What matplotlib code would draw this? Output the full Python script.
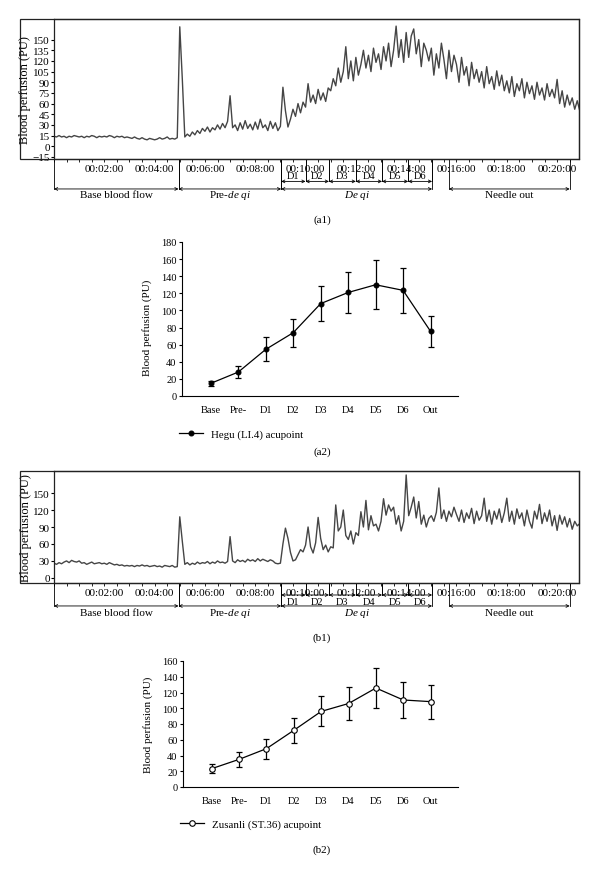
import matplotlib
matplotlib.use("Agg")
import matplotlib.pyplot as plt
from matplotlib.patches import Rectangle
from matplotlib.ticker import MultipleLocator, FuncFormatter
import numpy as np

plt.rcParams['font.family'] = 'Liberation Serif'
plt.rcParams['mathtext.fontset'] = 'custom'
plt.rcParams['mathtext.rm'] = 'Liberation Serif'
plt.rcParams['mathtext.it'] = 'Liberation Serif:italic'

# perfusion traces, one reading every 0.1 min (one row per minute)
trace_step = 0.1
hegu_trace = [
    14, 13, 15, 13, 14, 12, 14, 13, 15, 14,
    13, 14, 12, 14, 13, 15, 14, 12, 14, 13,
    14, 13, 15, 14, 12, 14, 13, 14, 12, 13,
    12, 11, 13, 11, 10, 12, 10, 9, 11, 10,
    9, 10, 12, 10, 11, 13, 10, 11, 10, 12,
    168, 95, 13, 17, 14, 20, 16, 22, 18, 25,
    21, 27, 20, 26, 23, 30, 24, 32, 26, 35,
    71, 26, 30, 22, 33, 24, 36, 25, 31, 23,
    34, 24, 38, 26, 30, 22, 35, 25, 33, 22,
    28, 83, 50, 27, 38, 52, 42, 60, 47, 62,
    55, 88, 62, 72, 60, 80, 65, 75, 63, 82,
    78, 95, 85, 110, 90, 105, 140, 95, 120, 92,
    125, 100, 115, 135, 110, 128, 105, 138, 118, 130,
    108, 140, 120, 145, 112, 135, 169, 125, 150, 118,
    160, 125, 155, 165, 130, 150, 112, 145, 135, 120,
    138, 100, 130, 110, 145, 122, 95, 135, 105, 128,
    115, 90, 125, 100, 112, 85, 118, 95, 108, 90,
    105, 82, 112, 88, 98, 80, 106, 85, 100, 78,
    92, 75, 98, 70, 88, 78, 95, 68, 90, 74,
    85, 66, 90, 72, 82, 65, 88, 70, 80, 68,
    94, 60, 78, 55, 72, 58, 68, 52, 64, 50,
]
zusanli_trace = [
    26, 24, 27, 25, 28, 30, 27, 31, 29, 28,
    30, 26, 27, 24, 26, 28, 25, 26, 27, 25,
    26, 24, 27, 25, 23, 24, 22, 23, 21, 22,
    21, 22, 20, 22, 21, 23, 21, 22, 20, 21,
    22, 20, 21, 19, 22, 21, 20, 22, 19, 20,
    108, 65, 24, 27, 23, 26, 24, 28, 25, 27,
    26, 29, 25, 28, 26, 30, 27, 28, 26, 29,
    73, 30, 27, 32, 29, 31, 28, 33, 30, 32,
    29, 34, 30, 33, 31, 29, 32, 30, 26, 25,
    26, 60, 88, 70, 45, 30, 32, 41, 50, 46,
    58, 90, 55, 44, 62, 107, 70, 50, 58, 46,
    55, 53, 129, 83, 90, 120, 75, 68, 83, 60,
    80, 75, 117, 90, 137, 85, 110, 92, 95, 83,
    100, 140, 111, 129, 118, 125, 95, 110, 83, 100,
    182, 110, 125, 143, 106, 135, 95, 111, 90, 105,
    110, 100, 116, 159, 105, 120, 100, 118, 108, 125,
    112, 100, 120, 98, 115, 105, 123, 96, 118, 102,
    110, 141, 100, 120, 95, 118, 104, 122, 98, 115,
    141, 100, 118, 95, 122, 105, 115, 92, 120, 100,
    88, 118, 104, 130, 96, 115, 100, 120, 92, 110,
    84, 111, 95, 108, 90, 105, 86, 100, 92, 96,
]

# phase boundaries (minutes)
phase_names = ["Base blood flow", r"Pre-$\it{de\ qi}$", r"$\it{De\ qi}$", "Needle out"]
phase_edges = [(0, 4.95), (4.95, 9.03), (9.03, 15.03), (15.7, 20.5)]
dq_names = ["D1", "D2", "D3", "D4", "D5", "D6"]
dq_edges = [9.03, 10.0, 10.93, 12.0, 13.04, 14.08, 15.03]

# stage means and SD
stages = ["Base", "Pre-", "D1", "D2", "D3", "D4", "D5", "D6", "Out"]
hegu_mean = [14.8, 28, 54.5, 74, 108, 121, 130, 123.5, 75.6]
hegu_sd = [3, 7, 14, 16.5, 20.5, 24, 28.5, 26, 18]
zusanli_mean = [23.3, 35.1, 48.7, 72, 96, 106, 125.7, 110.5, 108.4]
zusanli_sd = [5.7, 9.3, 12.7, 15.5, 19, 21, 26, 23, 21.6]

W, H = 600, 878
fig = plt.figure(figsize=(W / 100, H / 100), dpi=100)


def fig_rect(x0, y0, x1, y1):
    return [x0 / W, 1 - y1 / H, (x1 - x0) / W, (y1 - y0) / H]


def time_fmt(v, pos):
    m = int(round(v))
    if m <= 0:
        return ""
    return "00:%02d:00" % m


def trace_panel(rect, box, trace, ylim, yticks, tag, rows):
    # outer frame around tick labels and axis
    x0, y0, x1, y1 = box
    fig.add_artist(Rectangle((x0 / W, 1 - y1 / H), (x1 - x0) / W, (y1 - y0) / H,
                             transform=fig.transFigure, fill=False, lw=0.9, color='#222'))
    ax = fig.add_axes(fig_rect(*rect))
    t = np.arange(len(trace)) * trace_step
    ax.plot(t, trace, color='#454545', lw=1.0)
    ax.set_xlim(0, 20.87)
    ax.set_ylim(*ylim)
    ax.set_yticks(yticks)
    ax.xaxis.set_major_locator(MultipleLocator(2))
    ax.xaxis.set_minor_locator(MultipleLocator(0.5))
    ax.xaxis.set_major_formatter(FuncFormatter(time_fmt))
    ax.tick_params(axis='x', which='both', direction='out', pad=0.8, labelsize=8)
    ax.tick_params(axis='x', which='major', length=2.5, width=0.6)
    ax.tick_params(axis='x', which='minor', length=2, width=0.6)
    ax.tick_params(axis='y', length=2, pad=1, labelsize=8)
    ax.set_ylabel("Blood perfusion (PU)", fontsize=9, labelpad=1)
    for s in ax.spines.values():
        s.set_linewidth(0.9)
        s.set_color('#222')

    tr = ax.get_xaxis_transform()
    d_arrow, d_text, main_arrow, main_text = rows
    kw = dict(color='k', lw=0.6, clip_on=False, transform=tr)
    for a, b in phase_edges:
        for x in (a, b):
            ax.plot([x, x], [0, main_arrow], **kw)
        ax.annotate('', xy=(b, main_arrow), xytext=(a, main_arrow), xycoords=tr,
                    arrowprops=dict(arrowstyle='<->', lw=0.6, shrinkA=0, shrinkB=0,
                                    mutation_scale=5))
    for (a, b), name in zip(phase_edges, phase_names):
        ax.text((a + b) / 2, main_text, name, transform=tr, ha='center', va='center',
                fontsize=8)
    for i, name in enumerate(dq_names):
        a, b = dq_edges[i], dq_edges[i + 1]
        ax.plot([a, a], [0, d_arrow], **kw)
        ax.plot([b, b], [0, d_arrow], **kw)
        ax.annotate('', xy=(b, d_arrow), xytext=(a, d_arrow), xycoords=tr,
                    arrowprops=dict(arrowstyle='<->', lw=0.6, shrinkA=0, shrinkB=0,
                                    mutation_scale=5))
        ax.text((a + b) / 2, d_text, name, transform=tr, ha='center', va='center',
                fontsize=7.5)
    fig.text(322 / W, 1 - tag[1] / H, tag[0], ha='center', va='center', fontsize=8)
    return ax


def stage_panel(rect, mean, sd, ylim, filled, label, tag_y, tag, leg_y, lab_y):
    ax = fig.add_axes(fig_rect(*rect))
    x = np.arange(len(stages))
    ax.errorbar(x, mean, yerr=sd, fmt='none', ecolor='k', elinewidth=0.9,
                capsize=2.5, capthick=0.9)
    ax.plot(x, mean, color='k', lw=0.9, marker='o', ms=3.5 if filled else 4,
            mfc='k' if filled else 'white', mec='k', mew=0.8, label=label)
    ax.set_xlim(-1.05, 9.0)
    ax.set_ylim(*ylim)
    ax.set_xticks(x)
    ax.set_xticklabels(stages)
    ax.yaxis.set_major_locator(MultipleLocator(20))
    ax.tick_params(axis='x', length=0, pad=6.5, labelsize=7.5)
    ax.tick_params(axis='y', length=2.5, width=0.8, pad=1.5, labelsize=7.5)
    ax.spines['top'].set_visible(False)
    ax.spines['right'].set_visible(False)
    for s in ('left', 'bottom'):
        ax.spines[s].set_linewidth(0.8)
    ax.set_ylabel("Blood perfusion (PU)", fontsize=8, labelpad=3)
    ax.yaxis.set_label_coords(-0.11, lab_y)
    ax.legend(loc='center left', bbox_to_anchor=(-0.01, leg_y), frameon=False,
              fontsize=7.8, handlelength=2.2, handletextpad=0.7, borderpad=0,
              borderaxespad=0)
    fig.text(322 / W, 1 - tag_y / H, tag, ha='center', va='center', fontsize=8)
    return ax


trace_panel((54, 20, 579, 160), (20, 20, 579, 160), hegu_trace, (-18, 179),
            list(range(-15, 151, 15)), ("(a1)", 220), (-0.16, -0.118, -0.214, -0.25))
stage_panel((182, 243, 458, 397), hegu_mean, hegu_sd, (0, 180), True,
            "Hegu (LI.4) acupoint", 452, "(a2)", -0.245, 0.45)
trace_panel((54, 472, 579, 584), (20, 472, 579, 584), zusanli_trace, (-9, 189),
            list(range(0, 151, 30)), ("(b1)", 638), (-0.107, -0.165, -0.205, -0.26))
stage_panel((183, 662, 458, 788), zusanli_mean, zusanli_sd, (0, 160), False,
            "Zusanli (ST.36) acupoint", 850, "(b2)", -0.295, 0.5)

fig.savefig("out.png", dpi=100)
